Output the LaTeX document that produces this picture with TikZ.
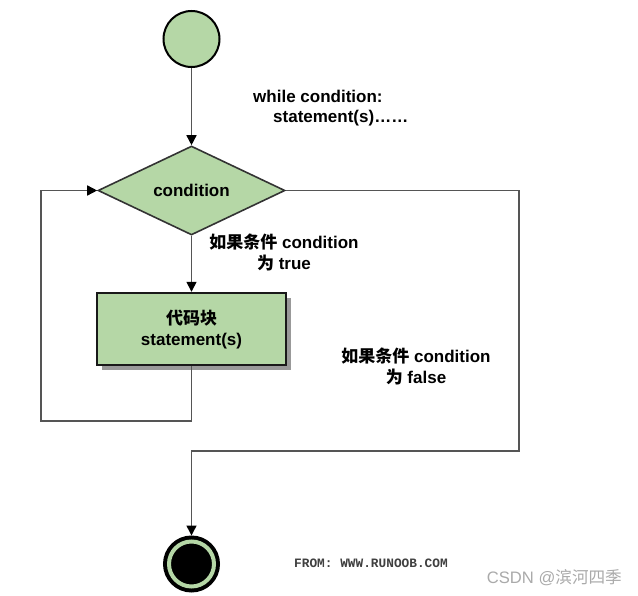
\documentclass[tikz,border=0pt]{standalone}
\usepackage{fontspec}
\setmainfont{Liberation Sans}
\newfontfamily\cjk{Noto Sans CJK SC}
\newfontfamily\monof{Liberation Mono}
\usetikzlibrary{shapes.geometric,arrows.meta,shadows}
\definecolor{flowgreen}{RGB}{181,215,166}
\definecolor{linegray}{RGB}{85,85,85}
\definecolor{wmgray}{RGB}{170,170,170}
\begin{document}
\begin{tikzpicture}[x=1pt,y=-1pt,
  lbl/.style={font=\fontsize{17}{20}\selectfont\bfseries, inner sep=0pt},
  conn/.style={draw=linegray, line width=1.5pt},
  arr/.style={conn, -{Triangle[length=10pt,width=10pt,color=black]}},
  startnode/.style={circle, draw=black, line width=2pt, fill=flowgreen, minimum size=56pt, inner sep=0pt},
  endnode/.style={circle, draw=black, line width=2pt, fill=black, minimum size=55pt, inner sep=0pt},
  decision/.style={diamond, draw=black!80, line width=1.6pt, fill=flowgreen, minimum width=187pt, minimum height=81pt, inner sep=0pt},
  block/.style={rectangle, draw=black!90, line width=2.4pt, fill=flowgreen, minimum width=189pt, minimum height=72pt, inner sep=0pt, align=center,
    drop shadow={shadow xshift=5pt, shadow yshift=-5pt, fill=black!40, opacity=1}}
]
\useasboundingbox (0,0) rectangle (638,596);
\fill[white] (0,0) rectangle (638,596);

\node[startnode] (start) at (191.5,39) {};
\node[decision, lbl] (cond) at (191.5,190.5) {condition};
\node[block, lbl] (body) at (191.5,329) {{\cjk\bfseries 代码块}\\[1pt]statement(s)};
\node[endnode] (end) at (191.5,564) {};
\draw[flowgreen, line width=4pt] (end.center) circle (22.5);

\coordinate (loopL) at (41,421);
\coordinate (exitR) at (519,451);

\draw[arr] (start) -- (cond.north);
\draw[arr] (cond.south) -- (body.north);
\draw[arr] (body.south) |- (loopL) |- (cond.west);
\draw[arr] (cond.east) -| (exitR) -| (end.north);

\node[lbl, anchor=base west] (w1) at (253,103) {while condition:};
\node[lbl, anchor=base west] (w2) at (273,123) {statement(s)……};

\node[lbl, align=center] (truelbl) at (284,252) {{\cjk\bfseries 如果条件} condition\\[1pt]{\cjk\bfseries 为} true};
\node[lbl, align=center] (falselbl) at (416,366) {{\cjk\bfseries 如果条件} condition\\[1pt]{\cjk\bfseries 为} false};

\node[font=\monof\fontsize{12.8}{14}\selectfont\bfseries, text=black!75, inner sep=0pt] (from) at (371,563) {FROM: WWW.RUNOOB.COM};
\node[font=\fontsize{16.6}{18}\selectfont, text=wmgray, inner sep=0pt, anchor=east] (wm) at (622,578) {CSDN @{\cjk 滨河四季}};
\end{tikzpicture}
\end{document}
